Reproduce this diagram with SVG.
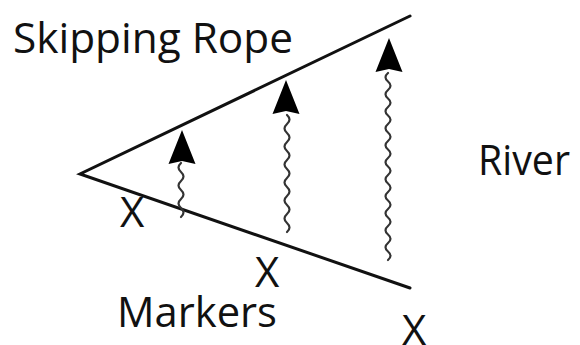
<svg xmlns="http://www.w3.org/2000/svg" width="580" height="345" viewBox="0 0 580 345">
<style>
.t{font-family:"Open Sans","Noto Sans","Liberation Sans",sans-serif;font-size:42px;fill:#111}
.rope{stroke:#111;stroke-width:3;fill:none;stroke-linecap:round}
.wave{stroke:#333;stroke-width:2.2;fill:none;stroke-linecap:round}
.head{fill:#000}
</style>
<defs>
<path id="ah" d="M0,0 L13.5,34 L0,31 L-13.5,34 Z"/>
</defs>
<rect width="580" height="345" fill="#fff"/>
<g id="rope">
<path class="rope" d="M410,16 L80,174 L410,288"/>
</g>
<g id="labels">
<text class="t" x="13" y="53" textLength="280" lengthAdjust="spacingAndGlyphs">Skipping Rope</text>
<text class="t" x="478" y="175" textLength="92" lengthAdjust="spacingAndGlyphs">River</text>
<text class="t" x="117" y="327" textLength="160" lengthAdjust="spacingAndGlyphs">Markers</text>
</g>
<g id="markers">
<text class="t" x="120" y="227">X</text>
<text class="t" x="255" y="287">X</text>
<text class="t" x="402" y="345">X</text>
</g>
<g id="connectors">
<path class="wave" d="M181,217 q5,-4.5 0,-9 t0,-9 t0,-9 t0,-9 t0,-9 t0,-9"/>
<use href="#ah" class="head" x="182" y="130"/>
<path class="wave" d="M287,232 q5,-4.5 0,-9 t0,-9 t0,-9 t0,-9 t0,-9 t0,-9 t0,-9 t0,-9 t0,-9 t0,-9 t0,-9 t0,-9 t0,-9"/>
<use href="#ah" class="head" x="286" y="80"/>
<path class="wave" d="M388,260 q5,-4.25 0,-8.5 t0,-8.5 t0,-8.5 t0,-8.5 t0,-8.5 t0,-8.5 t0,-8.5 t0,-8.5 t0,-8.5 t0,-8.5 t0,-8.5 t0,-8.5 t0,-8.5 t0,-8.5 t0,-8.5 t0,-8.5 t0,-8.5 t0,-8.5 t0,-8.5 t0,-8.5 t0,-8.5 t0,-8.5"/>
<use href="#ah" class="head" x="389" y="38"/>
</g>
</svg>
